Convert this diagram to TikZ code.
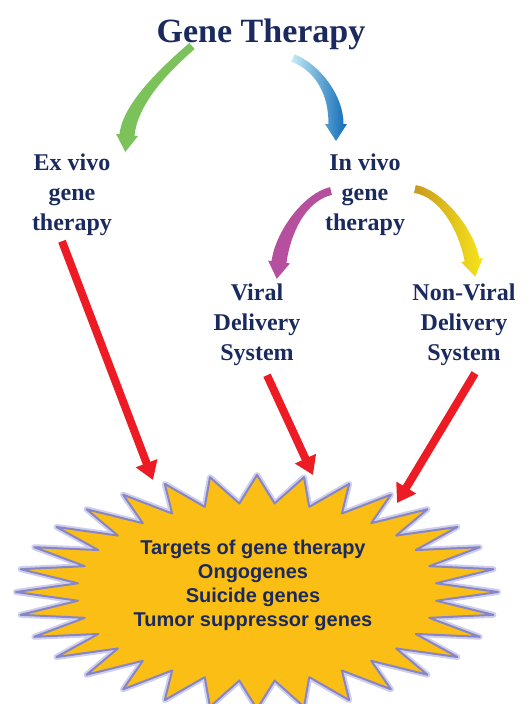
\documentclass[tikz,border=0pt]{standalone}
\usepackage{fontspec}
\usetikzlibrary{arrows.meta,calc}
\newfontfamily\lbf{Liberation Serif}
\newfontfamily\sbf{Liberation Sans}
\definecolor{navy}{HTML}{1B2A5E}
\definecolor{arrred}{HTML}{ED1C24}
\definecolor{ggreen}{HTML}{7BC25A}
\definecolor{bdark}{HTML}{0E6AB5}
\definecolor{bmid}{HTML}{2F93D4}
\definecolor{blight}{HTML}{C4EBF8}
\definecolor{mag}{HTML}{B6509E}
\definecolor{yel}{HTML}{F6E51B}
\definecolor{ochre}{HTML}{C99A1E}
\definecolor{burstfill}{HTML}{FBBE15}
\definecolor{burstline}{HTML}{8585C8}
\definecolor{burstglow}{HTML}{CFCFEC}
% tapered bent arrow: style, tail, control 1, control 2, base of head
\newcommand{\carrow}[5]{%
  \coordinate (bl) at ($(#2)!4pt!90:(#3)$);
  \coordinate (br) at ($(#2)!4pt!-90:(#3)$);
  \coordinate (hl) at ($(#5)!7.5pt!-90:(#4)$);
  \coordinate (hr) at ($(#5)!7.5pt!90:(#4)$);
  \coordinate (wl) at ($(#5)!11pt!-90:(#4)$);
  \coordinate (wr) at ($(#5)!11pt!90:(#4)$);
  \coordinate (tp) at ($(#5)!17pt!180:(#4)$);
  \path[#1] (bl) .. controls ($(#3)+(bl)-(#2)$) and ($(#4)+(hl)-(#5)$) .. (hl)
    -- (wl) -- (tp) -- (wr) -- (hr)
    .. controls ($(#4)+(hr)-(#5)$) and ($(#3)+(br)-(#2)$) .. (br) -- cycle;}

\begin{document}
\begin{tikzpicture}[x=1pt,y=-1pt,
  lbl/.style={anchor=north, inner sep=0, align=center, text=navy,
    font=\lbf\bfseries\fontsize{24}{30}\selectfont},
  redarrow/.style={draw=arrred, line width=8pt,
    -{Triangle[length=18pt,width=22pt]}},
  burst/.style={fill=burstfill, draw=burstline, line width=2pt, line join=round,
    preaction={draw=burstglow, line width=6pt, line join=round}}]
\useasboundingbox (0,0) rectangle (530,704);
\clip (0,0) rectangle (530,704);

\node[anchor=base, inner sep=0, text=navy,
  font=\lbf\bfseries\fontsize{34}{40}\selectfont] (title) at (261,42.5) {Gene Therapy};
\node[lbl] (exvivo) at (72,154) {Ex vivo\\gene\\therapy};
\node[lbl] (invivo) at (365,154) {In vivo\\gene\\therapy};
\node[lbl] (viral) at (257,284) {Viral\\Delivery\\System};
\node[lbl] (nonviral) at (464,284) {Non-Viral\\Delivery\\System};

% bent arrows
\coordinate (g0) at (192,46);  \coordinate (g1) at (127,135);
\coordinate (b0) at (293,58);  \coordinate (b1) at (336,124);
\coordinate (m0) at (331,191); \coordinate (m1) at (279,262);
\coordinate (y0) at (415,189); \coordinate (y1) at (472,260);
\carrow{fill=ggreen}{g0}{162,72}{130,105}{g1}
\carrow{left color=blight, middle color=bmid, right color=bdark}{b0}{318,68}{336,95}{b1}
\carrow{fill=mag}{m0}{305,197}{283,232}{m1}
\carrow{left color=ochre, middle color=yel, right color=yel}{y0}{440,193}{466,228}{y1}

% target burst
\draw[burst] plot[domain=0:63, samples=64, variable=\k]
  ({257+((mod(\k,2)==0)?241:180)*cos(\k*5.625)},
   {592-((mod(\k,2)==0)?117:89)*sin(\k*5.625)}) -- cycle;
\node[anchor=north, inner sep=0, align=center, text=navy,
  font=\sbf\bfseries\fontsize{20}{24}\selectfont] (targets) at (253,540)
  {Targets of gene therapy\\Ongogenes\\Suicide genes\\Tumor suppressor genes};

% red arrows
\coordinate (t1) at (153,480);
\coordinate (t2) at (313,475);
\coordinate (t3) at (397,503);
\draw[redarrow] ($(exvivo.south)+(-10,5)$) -- (t1);
\draw[redarrow] ($(viral.south)+(10,9)$) -- (t2);
\draw[redarrow] ($(nonviral.south)+(11,7)$) -- (t3);
\end{tikzpicture}
\end{document}
